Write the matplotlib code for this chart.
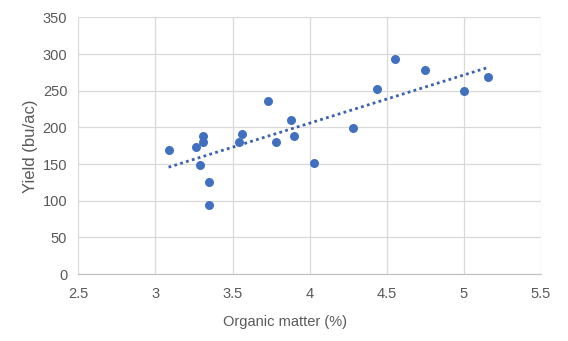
import numpy as np
import matplotlib.pyplot as plt

plt.rcParams['font.family'] = ['Liberation Sans', 'DejaVu Sans']

# organic matter (%) and yield (bu/ac)
organic_matter = [3.085, 3.26, 3.31, 3.31, 3.29, 3.35, 3.35, 3.54, 3.56, 3.73,
                  3.78, 3.88, 3.90, 4.03, 4.28, 4.44, 4.555, 4.75, 5.0, 5.16]
yield_bu = [169, 173, 189, 180, 149, 125, 94, 180, 191, 236,
            180, 210, 188, 151, 199, 252, 293, 278, 250, 269]

x_ticks = [2.5, 3, 3.5, 4, 4.5, 5, 5.5]
x_tick_labels = ['2.5', '3', '3.5', '4', '4.5', '5', '5.5']
y_ticks = [0, 50, 100, 150, 200, 250, 300, 350]

blue = '#4170C0'
text_col = '#595959'
grid_col = '#D9D9D9'

fig = plt.figure(figsize=(5.68, 3.41), dpi=100)
ax = fig.add_axes([0.138, 0.196, 0.814, 0.753])

ax.scatter(organic_matter, yield_bu, s=42, color=blue, zorder=3, linewidths=0)

# linear trendline over the data range
x = np.array(organic_matter)
slope, intercept = np.polyfit(x, yield_bu, 1)
xs = np.array([x.min(), x.max()])
ax.plot(xs, slope * xs + intercept, linestyle=(0, (1, 1.2)), color='#3A62AE',
        lw=2, zorder=2)

ax.set_xlim(2.5, 5.5)
ax.set_ylim(0, 350)
ax.set_xticks(x_ticks)
ax.set_xticklabels(x_tick_labels)
ax.set_yticks(y_ticks)
ax.grid(True, color=grid_col, lw=0.9)
ax.set_axisbelow(True)
for side in ['top', 'right', 'left']:
    ax.spines[side].set_visible(False)
ax.spines['bottom'].set_color('#BFBFBF')
ax.tick_params(length=0, labelsize=10.5, labelcolor=text_col)
ax.tick_params(axis='x', pad=9)
ax.tick_params(axis='y', pad=8)

ax.set_xlabel('Organic matter (%)', fontsize=10.5, color=text_col)
ax.set_ylabel('Yield (bu/ac)', fontsize=12, color=text_col)
ax.xaxis.set_label_coords(0.4465, -0.16)
ax.yaxis.set_label_coords(-0.087, 0.5)

fig.savefig('out.png', dpi=100)
